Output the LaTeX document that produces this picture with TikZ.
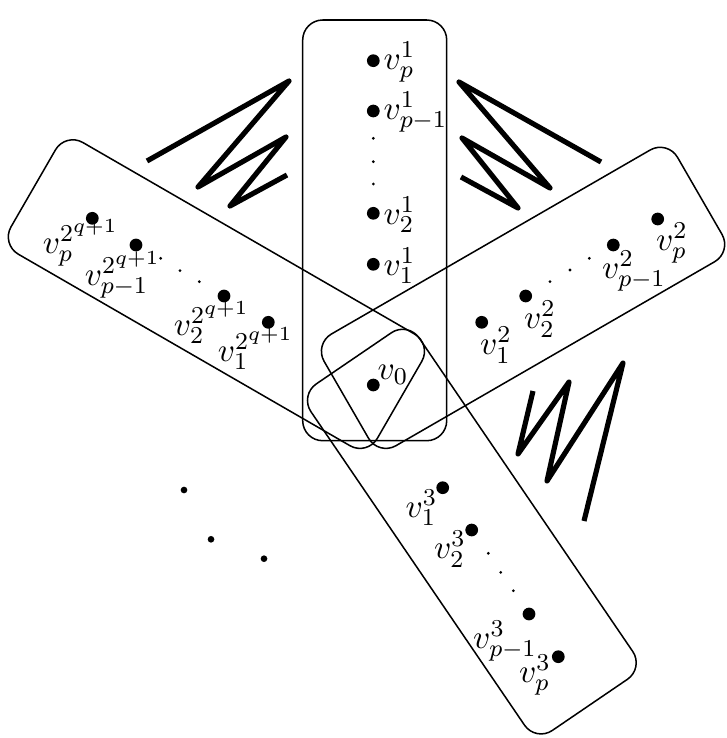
\documentclass[tikz,border=0pt]{standalone}
\usepackage{fix-cm}
\DeclareMathSizes{11}{11}{8}{6.6}
\usetikzlibrary{calc}
\begin{document}
\begin{tikzpicture}[x=0.33pt,y=-0.33pt,
  frame/.style={line width=0.5pt, rounded corners=6.6pt},
  zz/.style={line width=1.7pt, line join=round},
  bigdot/.style={circle, fill=black, inner sep=0pt, minimum size=4.2pt},
  tinydot/.style={circle, fill=black, inner sep=0pt, minimum size=1.0pt},
  fardot/.style={circle, fill=black, inner sep=0pt, minimum size=2.2pt},
  lbl/.style={inner sep=0pt, font=\fontsize{11}{13}\selectfont}]
\useasboundingbox (0,0) rectangle (726,738);

% frames
\draw[frame] (302.7,20) -- (446.7,20) -- (446.7,440.7) -- (302.7,440.7) -- cycle;
\draw[frame] (65.5,132.5) -- (431.8,344) -- (367.3,455.7) -- (1.0,244.2) -- cycle;
\draw[frame] (314.1,344) -- (667.5,140) -- (732,251.7) -- (378.6,455.7) -- cycle;
\draw[frame] (299.7,395.2) -- (407.9,321.5) -- (644,668) -- (535.8,741.7) -- cycle;

% zigzags
\draw[zz] (147,161) -- (289,81) -- (198,187) -- (286,137) -- (230,206) -- (287,175);
\draw[zz] (601,162) -- (459,82) -- (550,188) -- (462,138) -- (518,208) -- (461,177);
\draw[zz] (533,391) -- (518,454) -- (569,382) -- (547,481) -- (623,363) -- (584,521);

% centre
\node[bigdot] (v0) at (373.3,385) {};
\node[lbl, anchor=south west] (lv0) at (377,385) {$v_0$};

% top arm
\node[bigdot] (t1) at (373.3,264.3) {};
\node[bigdot] (t2) at (373.3,213.3) {};
\node[tinydot] (td1) at (373.3,184) {};
\node[tinydot] (td2) at (373.3,161.7) {};
\node[tinydot] (td3) at (373.3,138.3) {};
\node[bigdot] (tq) at (373.3,111) {};
\node[bigdot] (tp) at (373.3,60.7) {};
\node[lbl, anchor=west] (lt1) at (383,265.5) {$v_1^1$};
\node[lbl, anchor=west] (lt2) at (383,214.5) {$v_2^1$};
\node[lbl, anchor=west] (ltq) at (383,112) {$v_{p-1}^1$};
\node[lbl, anchor=west] (ltp) at (383,62) {$v_p^1$};

% left arm
\node[bigdot] (l1) at (268.3,322.3) {};
\node[bigdot] (l2) at (224,296) {};
\node[tinydot] (ld1) at (199.3,281.7) {};
\node[tinydot] (ld2) at (180,270.7) {};
\node[tinydot] (ld3) at (160.7,258.3) {};
\node[bigdot] (lq) at (136,245) {};
\node[bigdot] (lp) at (92.3,218.3) {};
\node[lbl] (ll1) at (256,349) {$v_1^{2^{q+1}}$};
\node[lbl] (ll2) at (212,323) {$v_2^{2^{q+1}}$};
\node[lbl] (llq) at (123,275) {$v_{p-1}^{2^{q+1}}$};
\node[lbl] (llp) at (81,243) {$v_p^{2^{q+1}}$};

% right arm
\node[bigdot] (r1) at (481.7,322.3) {};
\node[bigdot] (r2) at (525.7,296) {};
\node[tinydot] (rd1) at (550,281.7) {};
\node[tinydot] (rd2) at (570,270) {};
\node[tinydot] (rd3) at (589.3,258.3) {};
\node[bigdot] (rq) at (613.3,245) {};
\node[bigdot] (rp) at (657.7,219) {};
\node[lbl] (lr1) at (496,345) {$v_1^2$};
\node[lbl] (lr2) at (540,319) {$v_2^2$};
\node[lbl] (lrq) at (634,271) {$v_{p-1}^2$};
\node[lbl] (lrp) at (672,243) {$v_p^2$};

% bottom arm
\node[bigdot] (b1) at (442.7,487.7) {};
\node[bigdot] (b2) at (471.7,530) {};
\node[tinydot] (bd1) at (488.3,553.3) {};
\node[tinydot] (bd2) at (500.7,572.3) {};
\node[tinydot] (bd3) at (513.3,590.7) {};
\node[bigdot] (bq) at (529,614) {};
\node[bigdot] (bp) at (558.3,656.7) {};
\node[lbl] (lb1) at (421.5,507.5) {$v_1^3$};
\node[lbl] (lb2) at (450,549) {$v_2^3$};
\node[lbl] (lbq) at (505,641) {$v_{p-1}^3$};
\node[lbl] (lbp) at (535,675) {$v_p^3$};

% further arms indicated
\node[fardot] (f1) at (184,490) {};
\node[fardot] (f2) at (211,539.3) {};
\node[fardot] (f3) at (264,558.7) {};
\end{tikzpicture}
\end{document}
